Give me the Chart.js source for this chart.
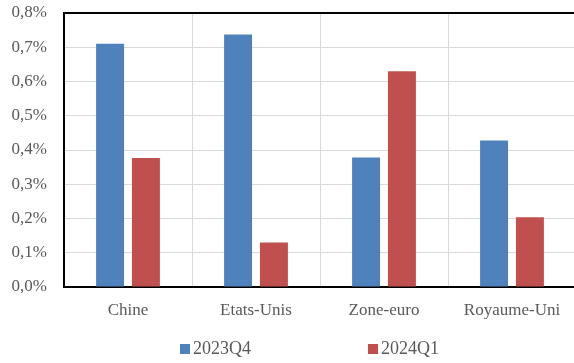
<!DOCTYPE html>
<html>
<head>
<meta charset="utf-8">
<script src="https://cdn.jsdelivr.net/npm/chart.js@4"></script>
<style>
  html, body { margin: 0; padding: 0; background: #fff; overflow: hidden; }
  #wrap { position: relative; width: 574px; height: 363px; overflow: hidden; }
  #box { position: absolute; left: 0; top: 0; width: 580px; height: 363px; }
  #legend { position: absolute; top: 338px; left: 0; width: 574px; height: 20px;
    font: 18px "Liberation Serif", "Times New Roman", serif; color: #595959; }
  .item { position: absolute; top: 0; line-height: 20px; white-space: nowrap; }
  .item span { display: inline-block; width: 10px; height: 10px; margin-right: 3px; vertical-align: 0px; }
</style>
</head>
<body>
<div id="wrap">
  <div id="box"><canvas id="growth-chart" width="580" height="363"></canvas></div>
  <div id="legend"></div>
</div>
<script>
let regions = ['Chine', 'Etats-Unis', 'Zone-euro', 'Royaume-Uni']
let q4_2023 = [0.71, 0.737, 0.378, 0.428]
let q1_2024 = [0.377, 0.13, 0.63, 0.204]
let seriesNames = ['2023Q4', '2024Q1']
let seriesColors = ['#4F81BD', '#C0504D']

let serif = '"Liberation Serif", "Times New Roman", serif'
let textColor = '#595959'
let gridColor = '#d9d9d9'

// top border of the plot area, Excel style box
let topBorder = {
    id: 'topBorder',
    afterDraw(chart) {
        let area = chart.chartArea
        let ctx = chart.ctx
        ctx.save()
        ctx.strokeStyle = '#000'
        ctx.lineWidth = 2
        ctx.beginPath()
        ctx.moveTo(area.left - 1, area.top)
        ctx.lineTo(area.right, area.top)
        ctx.stroke()
        ctx.restore()
    }
}

let context = document.querySelector('#growth-chart').getContext('2d')

let chart = new Chart(context, {
    type: 'bar',
    data: {
        labels: regions,
        datasets: [
            { label: seriesNames[0], data: q4_2023, backgroundColor: seriesColors[0] },
            { label: seriesNames[1], data: q1_2024, backgroundColor: seriesColors[1] }
        ]
    },
    options: {
        responsive: false,
        animation: false,
        categoryPercentage: 0.56,
        barPercentage: 0.78,
        layout: { padding: { top: 13, right: 4, bottom: 0, left: 0 } },
        plugins: {
            legend: { display: false },
            tooltip: { enabled: false }
        },
        scales: {
            x: {
                grid: { color: gridColor, drawTicks: false },
                border: { color: '#000', width: 2 },
                ticks: { color: textColor, font: { family: serif, size: 17 }, padding: 13 },
                afterFit(scale) { scale.height = 76 }
            },
            y: {
                min: 0,
                max: 0.8,
                grid: { color: gridColor, drawTicks: false },
                border: { color: '#000', width: 2 },
                ticks: {
                    stepSize: 0.1,
                    color: textColor,
                    font: { family: serif, size: 17 },
                    padding: 17,
                    callback: function(value) {
                        return value.toFixed(1).replace('.', ',') + '%'
                    }
                },
                afterFit(scale) {
                    scale.width = 64
                    scale.paddingTop = 0
                    scale.paddingBottom = 0
                }
            }
        }
    },
    plugins: [topBorder]
})

// legend below the chart
let legendLeft = [180, 368]
let legend = document.querySelector('#legend')
seriesNames.forEach(function(name, i) {
    let item = document.createElement('div')
    item.className = 'item'
    item.style.left = legendLeft[i] + 'px'
    let swatch = document.createElement('span')
    swatch.style.background = seriesColors[i]
    item.appendChild(swatch)
    item.appendChild(document.createTextNode(name))
    legend.appendChild(item)
})
</script>
</body>
</html>
